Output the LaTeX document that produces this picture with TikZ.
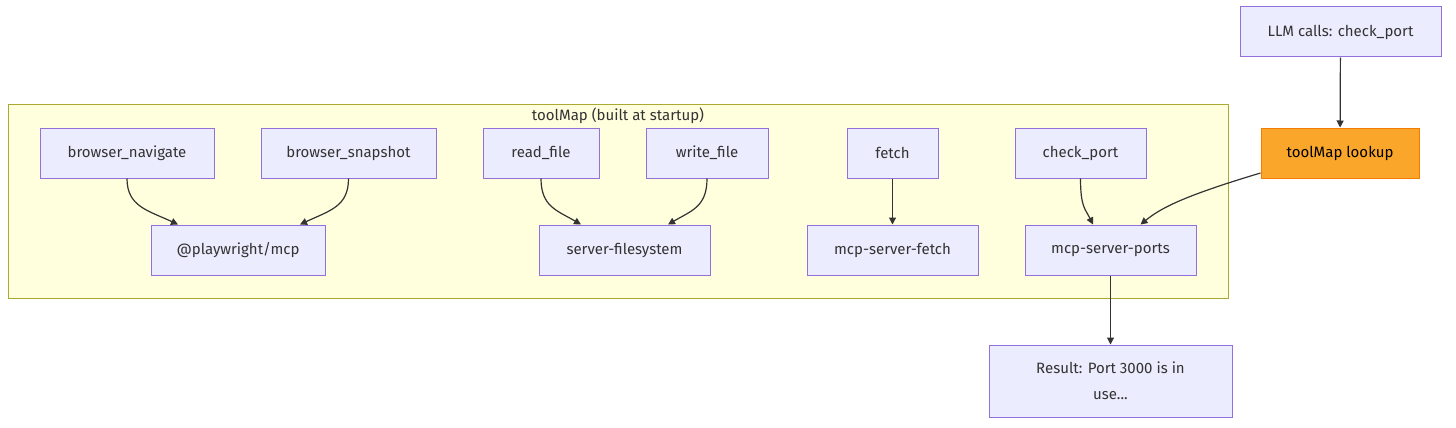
\documentclass[tikz,border=0pt]{standalone}
\usepackage{fontspec}
\setmainfont{Fira Sans}
\usepackage{xcolor}
\usepackage{tikz}
\usetikzlibrary{arrows.meta}
\definecolor{nodefill}{HTML}{ECECFF}
\definecolor{nodeline}{HTML}{9370DB}
\definecolor{clusterfill}{HTML}{FFFFDE}
\definecolor{clusterline}{HTML}{AAAA33}
\definecolor{hotfill}{HTML}{F9A62B}
\definecolor{hotline}{HTML}{F57C00}
\definecolor{ink}{HTML}{333333}
\tikzset{
  box/.style={draw=nodeline, fill=nodefill, line width=1pt, text=ink,
    font=\fontsize{15}{26}\selectfont, minimum height=50pt, inner sep=0pt},
  hot/.style={box, draw=hotline, fill=hotfill, text=black},
  cluster/.style={draw=clusterline, fill=clusterfill, line width=1pt, inner sep=0pt},
  lab/.style={text=ink, font=\fontsize{15}{18}\selectfont, inner sep=0pt},
  edge/.style={draw=ink, line width=1.2pt, -{Triangle[length=7pt,width=7pt]}}
}

\begin{document}
\begin{tikzpicture}[x=1pt, y=-1pt]
  \useasboundingbox (0,0) rectangle (1456,428);

  % cluster
  \node[cluster, minimum width=1220pt, minimum height=194pt] (toolmap) at (618,201) {};
  \node[lab, below=4pt] (title) at (toolmap.north) {toolMap (built at startup)};

  % tools
  \node[box, minimum width=174pt] (nav) at (127,153) {browser\_navigate};
  \node[box, minimum width=175pt] (snap) at (348.5,153) {browser\_snapshot};
  \node[box, minimum width=116pt] (rd) at (541,153) {read\_file};
  \node[box, minimum width=122pt] (wr) at (707,153) {write\_file};
  \node[box, minimum width=91pt] (ftch) at (892.5,153) {fetch};
  \node[box, minimum width=131pt] (chk) at (1080.5,153) {check\_port};

  % servers
  \node[box, minimum width=174pt] (pw) at (238,250) {@playwright/mcp};
  \node[box, minimum width=171pt] (fs) at (624.5,250) {server-filesystem};
  \node[box, minimum width=171pt] (mfetch) at (892.5,250) {mcp-server-fetch};
  \node[box, minimum width=171pt] (ports) at (1110.5,250) {mcp-server-ports};

  % call path
  \node[box, minimum width=201pt] (llm) at (1340.5,32) {LLM calls: check\_port};
  \node[hot, minimum width=158pt] (lookup) at (1340,153) {toolMap lookup};
  \node[box, minimum width=243pt, minimum height=72pt, align=center] (result) at (1110.5,381)
    {Result: Port 3000 is in\\use...};

  % edges
  \draw[edge] (nav.south) .. controls +(0,28) and +(-30,-14) .. ([xshift=-60pt]pw.north);
  \draw[edge] (snap.south) .. controls +(0,28) and +(30,-14) .. ([xshift=62pt]pw.north);
  \draw[edge] (rd.south) .. controls +(0,28) and +(-24,-14) .. ([xshift=-43.5pt]fs.north);
  \draw[edge] (wr.south) .. controls +(0,28) and +(24,-14) .. ([xshift=43.5pt]fs.north);
  \draw[edge] (ftch) -- (mfetch);
  \draw[edge] (chk.south) .. controls +(0,28) and +(-8,-16) .. ([xshift=-17.5pt]ports.north);
  \draw[edge] (llm) -- (lookup);
  \draw[edge] ([yshift=-20pt]lookup.west) .. controls +(-80,24) and +(20,-16) .. ([xshift=30pt]ports.north);
  \draw[edge] (ports) -- (result);
\end{tikzpicture}
\end{document}
